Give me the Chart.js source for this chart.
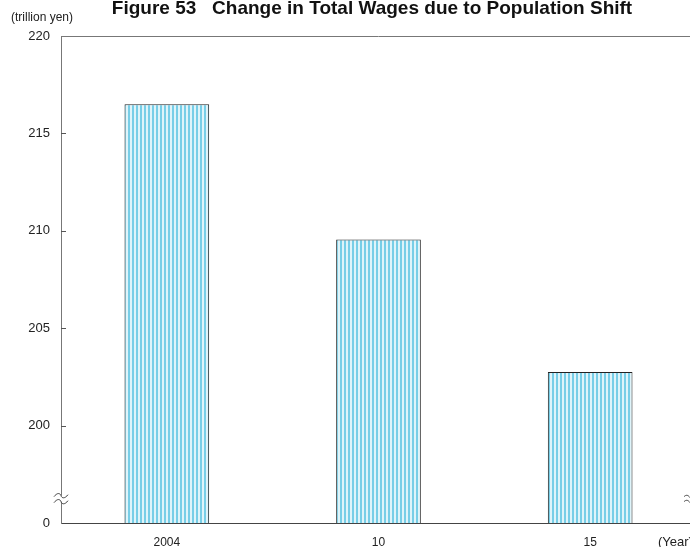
<!DOCTYPE html>
<html>
<head>
<meta charset="utf-8">
<script src="https://cdn.jsdelivr.net/npm/chart.js@4.4.0/dist/chart.umd.min.js"></script>
<style>
  html, body { margin: 0; padding: 0; background: #fff; overflow: hidden; }
  #wrap { position: relative; width: 700px; height: 547px; }
</style>
</head>
<body>
<div id="wrap"><canvas id="wages-chart"></canvas></div>
<script>
// Chart data
const years = ['2004', '10', '15'];
const totalWages = [216.5, 209.55, 202.75];   // trillion yen
const yTicks = [195, 200, 205, 210, 215, 220]; // 195 is shown as "0" (broken axis)

const titleText = 'Figure 53   Change in Total Wages due to Population Shift';
const unitText = '(trillion yen)';
const xUnitText = '(Year)';

// Striped fill for the bars
function makeStripes() {
    const c = document.createElement('canvas');
    c.width = 4;
    c.height = 4;
    const g = c.getContext('2d');
    g.fillStyle = '#dff4fa';
    g.fillRect(0, 0, 4, 4);
    g.fillStyle = '#78cee7';
    g.fillRect(0, 0, 2, 4);
    return g.createPattern(c, 'repeat');
}

// Extra drawing: title, unit labels, inward ticks, axis breaks, top border
const decorations = {
    id: 'decorations',
    afterDraw(chart) {
        const ctx = chart.ctx;
        const area = chart.chartArea;
        const y = chart.scales.y;
        ctx.save();

        // top border
        ctx.strokeStyle = '#777';
        ctx.lineWidth = 1;
        ctx.beginPath();
        ctx.moveTo(area.left, area.top + 0.5);
        ctx.lineTo(area.right, area.top + 0.5);
        ctx.stroke();

        // inward tick marks
        ctx.strokeStyle = '#555';
        yTicks.slice(1, -1).forEach(v => {
            const py = Math.round(y.getPixelForValue(v)) + 0.5;
            ctx.beginPath();
            ctx.moveTo(area.left, py);
            ctx.lineTo(area.left + 5, py);
            ctx.stroke();
        });

        // break marks on the y axis
        const by = y.getPixelForValue(196.3);
        ctx.fillStyle = '#fff';
        ctx.fillRect(area.left - 2, by - 2, 4, 6);
        ctx.strokeStyle = '#444';
        [by - 2, by + 4].forEach(yy => {
            ctx.beginPath();
            ctx.moveTo(area.left - 7, yy + 1);
            ctx.bezierCurveTo(area.left - 4, yy - 3, area.left - 1, yy - 3, area.left, yy);
            ctx.bezierCurveTo(area.left + 1, yy + 3, area.left + 4, yy + 3, area.left + 7, yy - 1);
            ctx.stroke();
        });
        // break marks at the right edge
        const rx = 684;
        [by - 1, by + 4].forEach(yy => {
            ctx.beginPath();
            ctx.moveTo(rx, yy);
            ctx.bezierCurveTo(rx + 2, yy - 2, rx + 4, yy - 2, rx + 6, yy + 1);
            ctx.stroke();
        });

        // texts
        ctx.fillStyle = '#111';
        ctx.textBaseline = 'alphabetic';
        ctx.textAlign = 'center';
        ctx.font = 'bold 19px "Liberation Sans", Arial, sans-serif';
        ctx.fillText(titleText, 372, 14);

        ctx.fillStyle = '#222';
        ctx.font = '12px "Liberation Sans", Arial, sans-serif';
        ctx.fillText(unitText, 42, 21);

        ctx.font = '13px "Liberation Sans", Arial, sans-serif';
        ctx.textAlign = 'left';
        ctx.fillText(xUnitText, 658, 546);
        ctx.restore();
    }
};

const ctx = document.getElementById('wages-chart').getContext('2d');
const wagesChart = new Chart(ctx, {
    type: 'bar',
    data: {
        labels: years,
        datasets: [{
            data: totalWages,
            backgroundColor: makeStripes(),
            borderColor: '#222',
            borderWidth: 1,
            borderSkipped: 'bottom',
            barPercentage: 0.4,
            categoryPercentage: 1.0
        }]
    },
    options: {
        responsive: true,
        maintainAspectRatio: false,
        animation: false,
        layout: { padding: { top: 36, right: 4, left: 0, bottom: 0 } },
        plugins: {
            legend: { display: false },
            tooltip: { enabled: false }
        },
        scales: {
            x: {
                grid: { display: false, drawTicks: false },
                border: { display: true, color: '#444', width: 1 },
                ticks: {
                    color: '#222',
                    padding: 12,
                    font: { family: '"Liberation Sans", Arial, sans-serif', size: 12 }
                },
                afterFit(scale) { scale.height = 24; }
            },
            y: {
                min: 195,
                max: 220,
                grid: { display: false, drawTicks: false },
                border: { display: true, color: '#777', width: 1 },
                ticks: {
                    stepSize: 5,
                    color: '#222',
                    padding: 11,
                    font: { family: '"Liberation Sans", Arial, sans-serif', size: 13 },
                    callback: function(value) {
                        return value === 195 ? '0' : value;
                    }
                },
                afterFit(scale) { scale.width = 61; }
            }
        }
    },
    plugins: [decorations]
});
</script>
</body>
</html>
